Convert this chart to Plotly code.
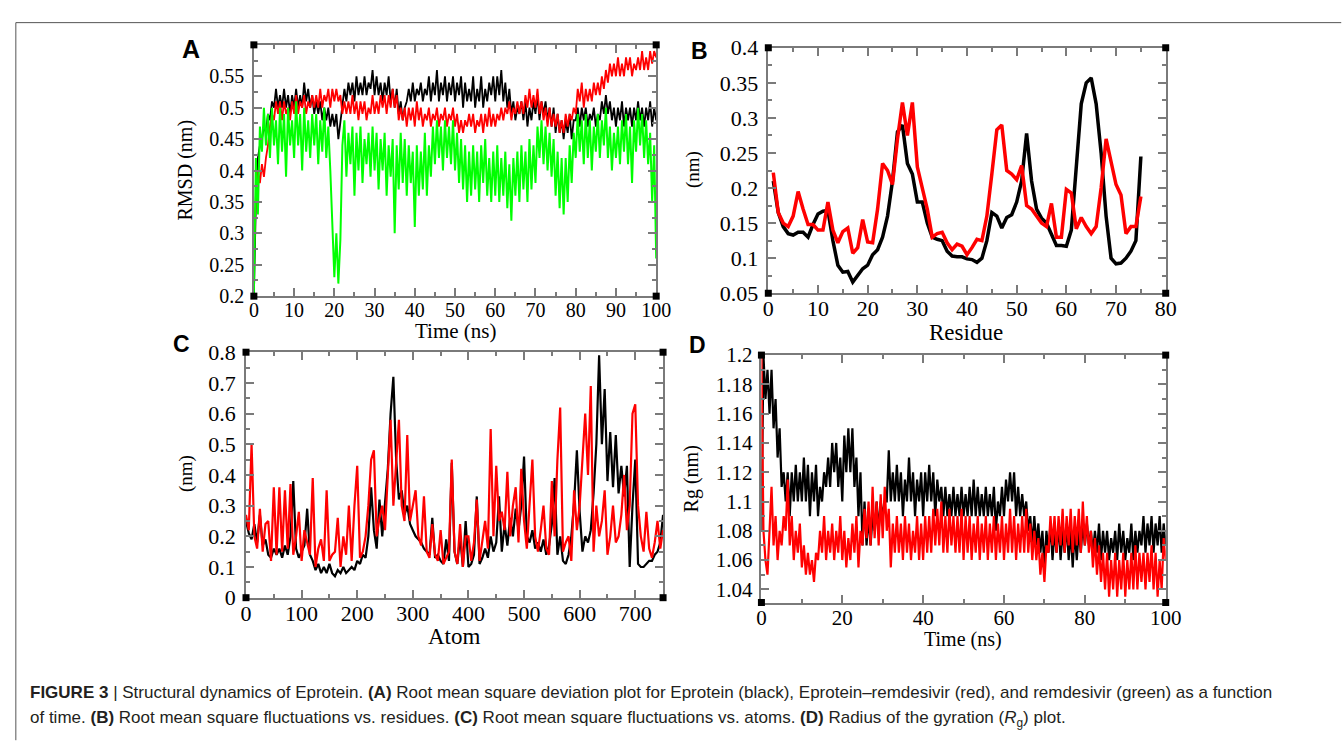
import numpy as np
import plotly.graph_objects as go

# ---------------- DATA ----------------
# Panel A: RMSD vs time (ns), sampled every 0.5 ns (0..100)
rmsd_black = [
    0.20, 0.35, 0.42, 0.44, 0.45, 0.47, 0.46, 0.49, 0.48, 0.51,
    0.50, 0.53, 0.50, 0.52, 0.50, 0.53, 0.50, 0.52, 0.49, 0.52,
    0.50, 0.53, 0.50, 0.52, 0.50, 0.54, 0.51, 0.53, 0.50, 0.52,
    0.49, 0.51, 0.49, 0.51, 0.48, 0.50, 0.48, 0.50, 0.47, 0.49,
    0.47, 0.49, 0.45, 0.48, 0.51, 0.53, 0.51, 0.54, 0.52, 0.54,
    0.51, 0.55, 0.52, 0.54, 0.52, 0.55, 0.52, 0.54, 0.53, 0.56,
    0.52, 0.55, 0.52, 0.54, 0.51, 0.54, 0.52, 0.55, 0.51, 0.53,
    0.50, 0.53, 0.49, 0.51, 0.48, 0.50, 0.51, 0.53, 0.51, 0.54,
    0.51, 0.53, 0.52, 0.54, 0.51, 0.53, 0.52, 0.55, 0.51, 0.54,
    0.52, 0.56, 0.51, 0.54, 0.52, 0.55, 0.51, 0.54, 0.52, 0.55,
    0.51, 0.54, 0.52, 0.55, 0.50, 0.54, 0.51, 0.53, 0.51, 0.55,
    0.50, 0.53, 0.51, 0.55, 0.50, 0.53, 0.51, 0.54, 0.52, 0.55,
    0.51, 0.55, 0.52, 0.56, 0.51, 0.54, 0.50, 0.53, 0.49, 0.51,
    0.48, 0.50, 0.49, 0.51, 0.48, 0.51, 0.47, 0.50, 0.48, 0.51,
    0.49, 0.52, 0.48, 0.51, 0.49, 0.51, 0.48, 0.50, 0.47, 0.50,
    0.46, 0.49, 0.46, 0.48, 0.45, 0.48, 0.46, 0.49, 0.45, 0.48,
    0.48, 0.50, 0.47, 0.50, 0.48, 0.50, 0.47, 0.49, 0.48, 0.50,
    0.47, 0.49, 0.48, 0.51, 0.49, 0.52, 0.49, 0.51, 0.48, 0.50,
    0.47, 0.50, 0.48, 0.51, 0.47, 0.50, 0.48, 0.50, 0.47, 0.50,
    0.48, 0.51, 0.48, 0.50, 0.47, 0.50, 0.48, 0.51, 0.47, 0.50,
    0.48]
rmsd_red = [
    0.27, 0.36, 0.40, 0.38, 0.41, 0.39, 0.42, 0.44, 0.47, 0.49,
    0.48, 0.51, 0.49, 0.51, 0.48, 0.51, 0.49, 0.50, 0.48, 0.51,
    0.49, 0.52, 0.49, 0.51, 0.50, 0.52, 0.49, 0.51, 0.50, 0.52,
    0.50, 0.52, 0.50, 0.53, 0.50, 0.52, 0.51, 0.53, 0.50, 0.53,
    0.51, 0.53, 0.51, 0.52, 0.49, 0.51, 0.49, 0.51, 0.49, 0.52,
    0.49, 0.51, 0.48, 0.51, 0.49, 0.51, 0.48, 0.50, 0.49, 0.52,
    0.49, 0.51, 0.49, 0.52, 0.50, 0.52, 0.49, 0.52, 0.50, 0.53,
    0.50, 0.52, 0.48, 0.50, 0.48, 0.50, 0.47, 0.50, 0.48, 0.50,
    0.47, 0.51, 0.48, 0.50, 0.47, 0.49, 0.48, 0.50, 0.47, 0.49,
    0.48, 0.50, 0.47, 0.49, 0.48, 0.50, 0.47, 0.49, 0.48, 0.50,
    0.47, 0.49, 0.46, 0.48, 0.46, 0.48, 0.47, 0.49, 0.47, 0.49,
    0.46, 0.48, 0.47, 0.49, 0.46, 0.49, 0.47, 0.50, 0.47, 0.49,
    0.47, 0.49, 0.48, 0.50, 0.48, 0.50, 0.49, 0.51, 0.48, 0.50,
    0.49, 0.51, 0.49, 0.51, 0.49, 0.52, 0.50, 0.53, 0.50, 0.52,
    0.50, 0.53, 0.49, 0.51, 0.48, 0.50, 0.47, 0.50, 0.47, 0.49,
    0.47, 0.49, 0.46, 0.48, 0.46, 0.49, 0.47, 0.49, 0.48, 0.50,
    0.49, 0.53, 0.51, 0.54, 0.50, 0.53, 0.51, 0.53, 0.51, 0.54,
    0.52, 0.54, 0.52, 0.55, 0.53, 0.56, 0.54, 0.57, 0.55, 0.57,
    0.55, 0.58, 0.55, 0.57, 0.55, 0.58, 0.56, 0.58, 0.55, 0.57,
    0.56, 0.58, 0.56, 0.59, 0.56, 0.58, 0.56, 0.59, 0.57, 0.59,
    0.58]
rmsd_green = [
    0.20, 0.42, 0.33, 0.47, 0.43, 0.50, 0.44, 0.49, 0.42, 0.50,
    0.44, 0.48, 0.41, 0.50, 0.43, 0.49, 0.39, 0.50, 0.44, 0.48,
    0.42, 0.51, 0.44, 0.49, 0.40, 0.50, 0.43, 0.48, 0.42, 0.49,
    0.44, 0.49, 0.41, 0.48, 0.43, 0.50, 0.42, 0.47, 0.40, 0.31,
    0.23, 0.30, 0.22, 0.29, 0.44, 0.48, 0.39, 0.46, 0.41, 0.47,
    0.36, 0.46, 0.40, 0.47, 0.38, 0.45, 0.41, 0.46, 0.39, 0.47,
    0.40, 0.46, 0.37, 0.45, 0.40, 0.46, 0.36, 0.44, 0.39, 0.45,
    0.30, 0.44, 0.37, 0.46, 0.38, 0.45, 0.36, 0.44, 0.38, 0.43,
    0.31, 0.44, 0.36, 0.43, 0.37, 0.46, 0.36, 0.44, 0.39, 0.47,
    0.41, 0.48, 0.42, 0.47, 0.40, 0.48, 0.42, 0.47, 0.41, 0.48,
    0.40, 0.46, 0.38, 0.45, 0.37, 0.44, 0.35, 0.43, 0.36, 0.44,
    0.37, 0.43, 0.35, 0.44, 0.38, 0.45, 0.36, 0.42, 0.35, 0.43,
    0.36, 0.44, 0.35, 0.42, 0.36, 0.43, 0.34, 0.41, 0.32, 0.42,
    0.36, 0.43, 0.35, 0.44, 0.37, 0.43, 0.35, 0.45, 0.37, 0.44,
    0.38, 0.47, 0.42, 0.48, 0.41, 0.47, 0.40, 0.46, 0.39, 0.45,
    0.36, 0.43, 0.34, 0.42, 0.33, 0.42, 0.35, 0.44, 0.38, 0.46,
    0.42, 0.49, 0.43, 0.48, 0.41, 0.49, 0.42, 0.48, 0.40, 0.47,
    0.43, 0.49, 0.42, 0.48, 0.44, 0.50, 0.42, 0.47, 0.40, 0.46,
    0.42, 0.47, 0.41, 0.48, 0.43, 0.49, 0.41, 0.47, 0.38, 0.48,
    0.43, 0.50, 0.44, 0.49, 0.42, 0.48, 0.41, 0.46, 0.35, 0.44,
    0.26]

# Panel B: RMSF vs residue (1..75)
rmsf_res_black = [
    0.210, 0.165, 0.145, 0.135, 0.133, 0.137, 0.137, 0.130, 0.148, 0.163,
    0.167, 0.168, 0.125, 0.090, 0.080, 0.081, 0.066, 0.075, 0.085, 0.090,
    0.105, 0.112, 0.130, 0.160, 0.210, 0.280, 0.290, 0.235, 0.220, 0.180,
    0.180, 0.150, 0.130, 0.127, 0.125, 0.110, 0.103, 0.102, 0.102, 0.099,
    0.098, 0.094, 0.100, 0.125, 0.165, 0.160, 0.143, 0.158, 0.162, 0.180,
    0.210, 0.278, 0.210, 0.170, 0.157, 0.150, 0.135, 0.118, 0.118, 0.117,
    0.140, 0.230, 0.320, 0.350, 0.357, 0.320, 0.250, 0.160, 0.100, 0.092,
    0.093, 0.100, 0.110, 0.125, 0.245]
rmsf_res_red = [
    0.222, 0.165, 0.150, 0.145, 0.160, 0.195, 0.170, 0.148, 0.148, 0.140,
    0.140, 0.180, 0.140, 0.122, 0.138, 0.143, 0.107, 0.115, 0.155, 0.123,
    0.122, 0.170, 0.235, 0.225, 0.205, 0.270, 0.322, 0.275, 0.322, 0.230,
    0.200, 0.170, 0.130, 0.135, 0.137, 0.122, 0.112, 0.120, 0.117, 0.105,
    0.115, 0.127, 0.125, 0.160, 0.220, 0.283, 0.290, 0.225, 0.220, 0.212,
    0.232, 0.175, 0.170, 0.160, 0.150, 0.145, 0.178, 0.130, 0.130, 0.198,
    0.193, 0.142, 0.158, 0.145, 0.135, 0.145, 0.200, 0.270, 0.235, 0.205,
    0.190, 0.135, 0.145, 0.145, 0.188]

# Panel C: RMSF vs atom, sampled every 5 atoms (0..750)
rmsf_atom_black = [
    0.25, 0.21, 0.19, 0.24, 0.18, 0.27, 0.17, 0.19, 0.14, 0.13,
    0.16, 0.14, 0.16, 0.13, 0.17, 0.14, 0.20, 0.38, 0.16, 0.13,
    0.15, 0.17, 0.29, 0.14, 0.12, 0.09, 0.11, 0.08, 0.10, 0.08,
    0.11, 0.08, 0.07, 0.09, 0.08, 0.10, 0.08, 0.09, 0.10, 0.09,
    0.12, 0.11, 0.14, 0.13, 0.20, 0.36, 0.22, 0.16, 0.32, 0.20,
    0.30, 0.42, 0.60, 0.72, 0.45, 0.32, 0.35, 0.27, 0.30, 0.24,
    0.22, 0.20, 0.19, 0.18, 0.16, 0.15, 0.14, 0.26, 0.13, 0.14,
    0.12, 0.11, 0.19, 0.12, 0.44, 0.15, 0.11, 0.20, 0.10, 0.25,
    0.10, 0.11, 0.14, 0.33, 0.11, 0.13, 0.16, 0.13, 0.20, 0.15,
    0.18, 0.33, 0.15, 0.24, 0.17, 0.26, 0.20, 0.29, 0.22, 0.30,
    0.46, 0.20, 0.18, 0.22, 0.16, 0.18, 0.15, 0.19, 0.14, 0.17,
    0.24, 0.39, 0.14, 0.20, 0.12, 0.11, 0.14, 0.20, 0.31, 0.48,
    0.28, 0.15, 0.20, 0.18, 0.22, 0.34, 0.50, 0.79, 0.50, 0.68,
    0.38, 0.54, 0.36, 0.53, 0.34, 0.43, 0.33, 0.43, 0.10, 0.30,
    0.45, 0.11, 0.10, 0.10, 0.11, 0.12, 0.12, 0.14, 0.15, 0.18,
    0.27]
rmsf_atom_red = [
    0.27, 0.22, 0.50, 0.20, 0.16, 0.29, 0.15, 0.24, 0.25, 0.12,
    0.36, 0.14, 0.36, 0.15, 0.35, 0.16, 0.37, 0.14, 0.20, 0.28,
    0.12, 0.22, 0.18, 0.14, 0.39, 0.10, 0.16, 0.19, 0.12, 0.35,
    0.12, 0.14, 0.15, 0.26, 0.10, 0.20, 0.14, 0.30, 0.12, 0.30,
    0.43, 0.13, 0.15, 0.20, 0.30, 0.45, 0.48, 0.20, 0.26, 0.30,
    0.22, 0.40, 0.58, 0.30, 0.45, 0.58, 0.30, 0.25, 0.53, 0.25,
    0.30, 0.35, 0.20, 0.17, 0.33, 0.15, 0.13, 0.24, 0.14, 0.12,
    0.22, 0.11, 0.13, 0.15, 0.45, 0.15, 0.11, 0.24, 0.10, 0.20,
    0.20, 0.12, 0.18, 0.32, 0.12, 0.18, 0.25, 0.16, 0.55, 0.20,
    0.43, 0.25, 0.28, 0.22, 0.41, 0.20, 0.30, 0.36, 0.18, 0.42,
    0.25, 0.16, 0.30, 0.45, 0.20, 0.15, 0.22, 0.30, 0.16, 0.14,
    0.38, 0.20, 0.45, 0.62, 0.15, 0.18, 0.20, 0.12, 0.35, 0.22,
    0.30, 0.45, 0.60, 0.40, 0.69, 0.15, 0.30, 0.20, 0.25, 0.35,
    0.14, 0.20, 0.30, 0.18, 0.20, 0.27, 0.40, 0.22, 0.30, 0.60,
    0.63, 0.30, 0.20, 0.15, 0.28, 0.16, 0.13, 0.18, 0.25, 0.16,
    0.22]

# Panel D: Radius of gyration vs time (ns), sampled every 0.5 ns (0..100)
rg_black = [
    1.080, 1.200, 1.170, 1.190, 1.160, 1.190, 1.150, 1.170, 1.130, 1.150,
    1.110, 1.120, 1.100, 1.120, 1.090, 1.120, 1.100, 1.125, 1.100, 1.120,
    1.100, 1.130, 1.100, 1.125, 1.090, 1.120, 1.100, 1.125, 1.090, 1.110,
    1.100, 1.120, 1.110, 1.130, 1.110, 1.140, 1.120, 1.140, 1.110, 1.130,
    1.100, 1.145, 1.120, 1.150, 1.120, 1.150, 1.110, 1.130, 1.090, 1.120,
    1.070, 1.100, 1.070, 1.090, 1.070, 1.090, 1.080, 1.100, 1.080, 1.100,
    1.090, 1.100, 1.100, 1.135, 1.100, 1.120, 1.100, 1.125, 1.100, 1.120,
    1.090, 1.115, 1.100, 1.130, 1.100, 1.120, 1.090, 1.115, 1.100, 1.120,
    1.090, 1.120, 1.100, 1.125, 1.100, 1.120, 1.090, 1.115, 1.100, 1.110,
    1.090, 1.110, 1.090, 1.105, 1.090, 1.110, 1.090, 1.105, 1.090, 1.110,
    1.090, 1.105, 1.090, 1.110, 1.090, 1.115, 1.090, 1.110, 1.090, 1.105,
    1.090, 1.110, 1.090, 1.105, 1.090, 1.110, 1.080, 1.100, 1.090, 1.110,
    1.090, 1.115, 1.100, 1.120, 1.100, 1.120, 1.090, 1.110, 1.090, 1.105,
    1.090, 1.100, 1.080, 1.090, 1.070, 1.090, 1.070, 1.085, 1.065, 1.080,
    1.055, 1.080, 1.065, 1.085, 1.060, 1.080, 1.065, 1.085, 1.060, 1.080,
    1.065, 1.085, 1.060, 1.080, 1.055, 1.080, 1.060, 1.080, 1.065, 1.085,
    1.070, 1.085, 1.070, 1.080, 1.065, 1.080, 1.065, 1.085, 1.060, 1.080,
    1.065, 1.080, 1.060, 1.075, 1.065, 1.080, 1.060, 1.085, 1.065, 1.080,
    1.060, 1.075, 1.065, 1.085, 1.060, 1.080, 1.065, 1.080, 1.070, 1.090,
    1.065, 1.085, 1.070, 1.090, 1.065, 1.085, 1.070, 1.090, 1.065, 1.085,
    1.070]
rg_red = [
    1.200, 1.080, 1.060, 1.050, 1.080, 1.110, 1.070, 1.090, 1.060, 1.080,
    1.070, 1.090, 1.080, 1.115, 1.070, 1.090, 1.060, 1.080, 1.065, 1.085,
    1.055, 1.070, 1.050, 1.065, 1.050, 1.060, 1.045, 1.065, 1.060, 1.080,
    1.065, 1.090, 1.060, 1.080, 1.065, 1.085, 1.060, 1.080, 1.065, 1.090,
    1.060, 1.080, 1.055, 1.075, 1.060, 1.085, 1.065, 1.090, 1.055, 1.080,
    1.070, 1.095, 1.075, 1.100, 1.070, 1.110, 1.075, 1.100, 1.070, 1.105,
    1.075, 1.110, 1.080, 1.095, 1.055, 1.085, 1.065, 1.090, 1.065, 1.085,
    1.060, 1.090, 1.065, 1.085, 1.060, 1.080, 1.065, 1.090, 1.060, 1.085,
    1.060, 1.090, 1.065, 1.090, 1.065, 1.095, 1.070, 1.095, 1.070, 1.100,
    1.065, 1.090, 1.065, 1.095, 1.070, 1.090, 1.065, 1.090, 1.065, 1.095,
    1.060, 1.090, 1.065, 1.090, 1.060, 1.085, 1.065, 1.090, 1.060, 1.085,
    1.065, 1.090, 1.060, 1.085, 1.065, 1.090, 1.060, 1.085, 1.065, 1.090,
    1.060, 1.085, 1.065, 1.095, 1.065, 1.090, 1.060, 1.085, 1.065, 1.090,
    1.065, 1.095, 1.065, 1.085, 1.060, 1.080, 1.060, 1.075, 1.050, 1.065,
    1.045, 1.070, 1.065, 1.090, 1.070, 1.090, 1.065, 1.090, 1.070, 1.095,
    1.065, 1.090, 1.070, 1.095, 1.065, 1.090, 1.070, 1.095, 1.065, 1.100,
    1.070, 1.090, 1.065, 1.080, 1.055, 1.075, 1.050, 1.070, 1.045, 1.065,
    1.040, 1.065, 1.035, 1.060, 1.040, 1.065, 1.035, 1.060, 1.040, 1.065,
    1.035, 1.060, 1.040, 1.065, 1.040, 1.070, 1.040, 1.065, 1.045, 1.065,
    1.040, 1.065, 1.045, 1.070, 1.040, 1.065, 1.035, 1.060, 1.040, 1.075,
    1.060]

# Tick labels
a_yticks = [0.2, 0.25, 0.3, 0.35, 0.4, 0.45, 0.5, 0.55]
a_ytext = ["0.2", "0.25", "0.3", "0.35", "0.4", "0.45", "0.5", "0.55"]
a_xticks = [0, 10, 20, 30, 40, 50, 60, 70, 80, 90, 100]
b_yticks = [0.05, 0.1, 0.15, 0.2, 0.25, 0.3, 0.35, 0.4]
b_ytext = ["0.05", "0.1", "0.15", "0.2", "0.25", "0.3", "0.35", "0.4"]
b_xticks = [0, 10, 20, 30, 40, 50, 60, 70, 80]
c_yticks = [0, 0.1, 0.2, 0.3, 0.4, 0.5, 0.6, 0.7, 0.8]
c_ytext = ["0", "0.1", "0.2", "0.3", "0.4", "0.5", "0.6", "0.7", "0.8"]
c_xticks = [0, 100, 200, 300, 400, 500, 600, 700]
d_yticks = [1.04, 1.06, 1.08, 1.1, 1.12, 1.14, 1.16, 1.18, 1.2]
d_ytext = ["1.04", "1.06", "1.08", "1.1", "1.12", "1.14", "1.16", "1.18", "1.2"]
d_xticks = [0, 20, 40, 60, 80, 100]

# ---------------- FIGURE ----------------
W, H = 1344, 746
SERIF = "Liberation Serif, Times New Roman, serif"
SANS = "Liberation Sans, Arial, sans-serif"
GRAY = "#7a7a7a"


def fx(p):
    return p / W


def fy(p):
    return 1 - p / H


fig = go.Figure()

# Panel A
t_a = np.linspace(0, 100, len(rmsd_black))
fig.add_trace(go.Scatter(x=t_a, y=rmsd_black, mode="lines", line=dict(color="#000000", width=1.8), xaxis="x", yaxis="y"))
fig.add_trace(go.Scatter(x=t_a, y=rmsd_red, mode="lines", line=dict(color="#ff0000", width=1.8), xaxis="x", yaxis="y"))
fig.add_trace(go.Scatter(x=t_a, y=rmsd_green, mode="lines", line=dict(color="#00ff00", width=2), xaxis="x", yaxis="y"))

# Panel B
res = np.arange(1, len(rmsf_res_black) + 1)
fig.add_trace(go.Scatter(x=res, y=rmsf_res_black, mode="lines", line=dict(color="#000000", width=3.5), xaxis="x2", yaxis="y2"))
fig.add_trace(go.Scatter(x=res, y=rmsf_res_red, mode="lines", line=dict(color="#ff0000", width=3.5), xaxis="x2", yaxis="y2"))

# Panel C
atoms = np.linspace(0, 750, len(rmsf_atom_black))
fig.add_trace(go.Scatter(x=atoms, y=rmsf_atom_black, mode="lines", line=dict(color="#000000", width=2.2), xaxis="x3", yaxis="y3"))
fig.add_trace(go.Scatter(x=atoms, y=rmsf_atom_red, mode="lines", line=dict(color="#ff0000", width=2.2), xaxis="x3", yaxis="y3"))

# Panel D
t_d = np.linspace(0, 100, len(rg_black))
fig.add_trace(go.Scatter(x=t_d, y=rg_black, mode="lines", line=dict(color="#000000", width=2.2), xaxis="x4", yaxis="y4"))
fig.add_trace(go.Scatter(x=t_d, y=rg_red, mode="lines", line=dict(color="#ff0000", width=2.2), xaxis="x4", yaxis="y4"))


def axis(domain, rng, tickvals, ticktext, minor_dtick, minor_tick0, size, anchor, standoff):
    return dict(
        domain=domain, range=rng, anchor=anchor,
        tickmode="array", tickvals=tickvals, ticktext=ticktext,
        ticks="inside", ticklen=8, tickwidth=1.5, tickcolor=GRAY,
        showline=True, linecolor=GRAY, linewidth=1.5, mirror="ticks",
        showgrid=False, zeroline=False,
        ticklabelstandoff=standoff,
        tickfont=dict(family=SERIF, size=size, color="#000000"),
        minor=dict(ticks="inside", ticklen=4, tickwidth=1.5, tickcolor=GRAY,
                   dtick=minor_dtick, tick0=minor_tick0, showgrid=False),
        fixedrange=True,
    )


dA_x = [fx(252), fx(661)]
dA_y = [fy(294), fy(34)]
dB_x = [fx(775), fx(1179)]
dB_y = [fy(291), fy(37)]
dC_x = [fx(244), fx(668)]
dC_y = [fy(606), fy(352)]
dD_x = [fx(768), fx(1179)]
dD_y = [fy(611), fy(355)]

fig.update_layout(
    width=W, height=H,
    margin=dict(l=0, r=0, t=0, b=0),
    paper_bgcolor="white", plot_bgcolor="white",
    showlegend=False,
    xaxis=axis(dA_x, [0, 100], a_xticks, [str(v) for v in a_xticks], 5, 0, 20, "y", -5),
    yaxis=axis(dA_y, [0.2, 0.6], a_yticks, a_ytext, 0.025, 0.2, 20, "x", 4),
    xaxis2=axis(dB_x, [0, 80], b_xticks, [str(v) for v in b_xticks], 5, 0, 22, "y2", -5),
    yaxis2=axis(dB_y, [0.05, 0.4], b_yticks, b_ytext, 0.025, 0.05, 22, "x2", 4),
    xaxis3=axis(dC_x, [0, 750], c_xticks, [str(v) for v in c_xticks], 50, 0, 22, "y3", -5),
    yaxis3=axis(dC_y, [0, 0.8], c_yticks, c_ytext, 0.05, 0, 22, "x3", 4),
    xaxis4=axis(dD_x, [0, 100], d_xticks, [str(v) for v in d_xticks], 10, 0, 21, "y4", -4),
    yaxis4=axis(dD_y, [1.031, 1.2], d_yticks, d_ytext, 0.01, 1.04, 21, "x4", 3),
)

annotations = []


def text(x, y, s, size, family=SERIF, bold=False, angle=0, xanchor="center", color="#000000"):
    annotations.append(dict(
        x=fx(x), y=fy(y), xref="paper", yref="paper", text=("<b>%s</b>" % s) if bold else s,
        showarrow=False, font=dict(family=family, size=size, color=color),
        xanchor=xanchor, yanchor="middle", textangle=angle,
    ))


# axis titles
text(457, 330, "Time (ns)", 21)
text(182, 164, "RMSD (nm)", 20, angle=-90)
text(976, 332, "Residue", 23)
text(698, 163, "(nm)", 19, angle=-90)
text(456, 646, "Atom", 23)
text(183, 478, "(nm)", 19, angle=-90)
text(973, 649, "Time (ns)", 20)
text(697, 483, "Rg (nm)", 20, angle=-90)

# panel letters
text(188, 38, "A", 25, family=SANS, bold=True)
text(705, 40, "B", 23, family=SANS, bold=True)
text(178, 344, "C", 23, family=SANS, bold=True)
text(703, 345, "D", 23, family=SANS, bold=True)

# caption
cap1 = ("<b>FIGURE 3</b> | Structural dynamics of Eprotein. <b>(A)</b> Root mean square deviation plot for "
        "Eprotein (black), Eprotein\u2013remdesivir (red), and remdesivir (green) as a function")
cap2 = ("of time. <b>(B)</b> Root mean square fluctuations vs. residues. <b>(C)</b> Root mean square "
        "fluctuations vs. atoms. <b>(D)</b> Radius of the gyration (<i>R</i><sub>g</sub>) plot.")
text(22, 704, cap1, 17, family=SANS, xanchor="left", color="#231f20")
text(22, 731, cap2, 17, family=SANS, xanchor="left", color="#231f20")

fig.update_layout(annotations=annotations)

# figure frame and corner markers
shapes = [
    dict(type="line", xref="paper", yref="paper", x0=fx(10), x1=1.01, y0=fy(11), y1=fy(11),
         line=dict(color="#555555", width=1)),
    dict(type="line", xref="paper", yref="paper", x0=fx(10), x1=fx(10), y0=fy(11), y1=-0.01,
         line=dict(color="#555555", width=1)),
]
for xa, ya in [("x", "y"), ("x2", "y2"), ("x3", "y3"), ("x4", "y4")]:
    for cx in (0, 1):
        for cy in (0, 1):
            shapes.append(dict(
                type="rect", xref=xa + " domain", yref=ya + " domain",
                xsizemode="pixel", ysizemode="pixel", xanchor=cx, yanchor=cy,
                x0=-3.5, x1=3.5, y0=-3.5, y1=3.5,
                fillcolor="#000000", line=dict(width=0), layer="above",
            ))
fig.update_layout(shapes=shapes)

fig.write_html(
    "out.html",
    config={"displayModeBar": False},
    post_script=("document.documentElement.style.margin='0';document.body.style.margin='0';"
                 "document.body.style.padding='0';document.documentElement.style.overflow='hidden';"
                 "document.body.style.overflow='hidden';"),
)
